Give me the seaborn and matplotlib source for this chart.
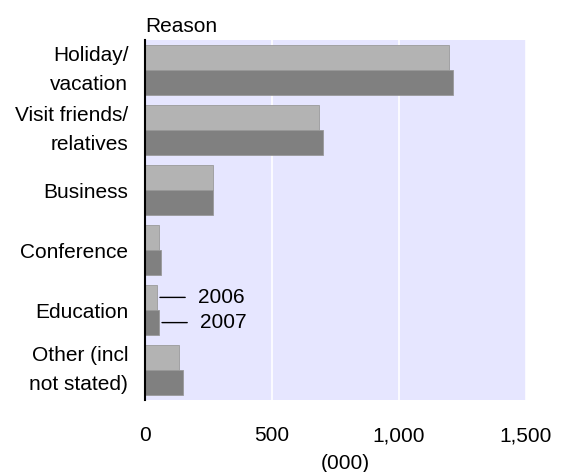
import matplotlib
matplotlib.use("Agg")
import matplotlib.pyplot as plt
import seaborn as sns
import pandas as pd
from matplotlib.ticker import FuncFormatter

categories = ["Holiday/\nvacation", "Visit friends/\nrelatives", "Business",
              "Conference", "Education", "Other (incl\nnot stated)"]
years = ["2006", "2007"]
values_2006 = [1195, 685, 268, 55, 48, 135]
values_2007 = [1211, 700, 268, 64, 56, 150]
x_ticks = [0, 500, 1000, 1500]

df = pd.DataFrame({
    "Reason": categories * 2,
    "Year": [years[0]] * len(categories) + [years[1]] * len(categories),
    "Value": values_2006 + values_2007,
})

sns.set_theme(style="white")
plt.rcParams["font.family"] = ["Liberation Sans", "DejaVu Sans"]
FS = 15

fig = plt.figure(figsize=(5.62, 4.72), dpi=100)
ax = fig.add_axes([145 / 562, 1 - 400 / 472, (526 - 145) / 562, 360 / 472])
ax.set_facecolor("#E6E6FF")

sns.barplot(data=df, y="Reason", x="Value", hue="Year", orient="h",
            palette=["#B3B3B3", "#808080"], width=0.84, gap=0,
            edgecolor="#9A9A9A", linewidth=0.6, legend=False, ax=ax, zorder=3)

ax.set_xlim(0, 1500)
ax.set_xticks(x_ticks)
ax.xaxis.set_major_formatter(FuncFormatter(lambda v, p: f"{int(v):,}"))
ax.grid(axis="x", color="white", linewidth=1.2, zorder=0)
ax.set_axisbelow(True)

for s in ["top", "right", "bottom"]:
    ax.spines[s].set_visible(False)
ax.spines["left"].set_color("black")
ax.spines["left"].set_linewidth(1.5)
ax.spines["left"].set_zorder(5)

ax.tick_params(axis="both", length=0, labelsize=FS, colors="black")
ax.tick_params(axis="y", pad=12)
ax.tick_params(axis="x", pad=19)
for lab in ax.get_yticklabels():
    lab.set_linespacing(1.7)
    if "\n" in lab.get_text():
        lab.set_verticalalignment("center")

ax.set_ylabel("")
ax.set_xlabel("(000)", fontsize=FS, color="black")
ax.xaxis.set_label_coords(0.525, -0.15)
ax.set_title("Reason", loc="left", fontsize=FS, pad=6, color="black")

# Legend annotations next to the Education bars
edu = categories.index("Education")
for k, (yr, vals) in enumerate(zip(years, [values_2006, values_2007])):
    yoff = (-1 if k == 0 else 1) * 0.84 / 4
    ax.annotate(yr, xy=(vals[edu], edu + yoff), xycoords="data",
                xytext=(41, 0), textcoords="offset pixels",
                ha="left", va="center", fontsize=FS, color="black",
                arrowprops=dict(arrowstyle="-", color="black", lw=1,
                                shrinkA=7, shrinkB=2), zorder=6)

fig.savefig("out.png", dpi=100)
